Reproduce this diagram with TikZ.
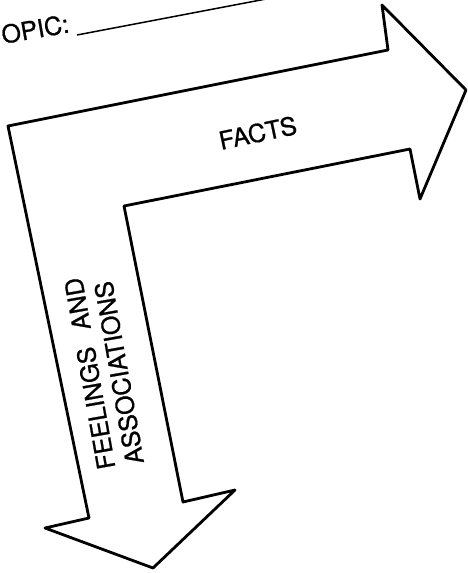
\documentclass[tikz,border=0pt]{standalone}
\usepackage{fontspec}
\setmainfont{TeX Gyre Heros}
\newfontfamily\scanfont{TeX Gyre Heros}[FakeBold=0.8]
\tikzset{
  caption/.style={inner sep=0pt, anchor=base west, font=\scanfont\fontsize{25}{29}\selectfont}
}
\begin{document}
\begin{tikzpicture}[x=1pt, y=-1pt, line join=round]
  \useasboundingbox (0,0) rectangle (467,573);
  \clip (0,0) rectangle (467,573);

  % Bent arrow: facts to the right, feelings downward
  \draw[line width=2.8pt] (8,126) -- (388,50) -- (382,5) -- (466,90)
    -- (420,199) -- (410,149) -- (124,206) -- (183,502) -- (235,490)
    -- (153,568) -- (45,528) -- (89,518) -- cycle;

  % Topic line
  \node[caption, rotate=10] (topic) at (3,44) {OPIC:};
  \coordinate (blank start) at (77,35);
  \coordinate (blank end) at (266,-1);
  \draw[line width=1.5pt] (blank start) -- (blank end);

  % Labels
  \node[caption, rotate=12] (facts) at (221,150) {FACTS};
  \node[caption, rotate=100, align=left, anchor=north west] (feelings) at (97,471)
    {FEELINGS\hspace{0.7em}AND\\ASSOCIATIONS};
\end{tikzpicture}
\end{document}
